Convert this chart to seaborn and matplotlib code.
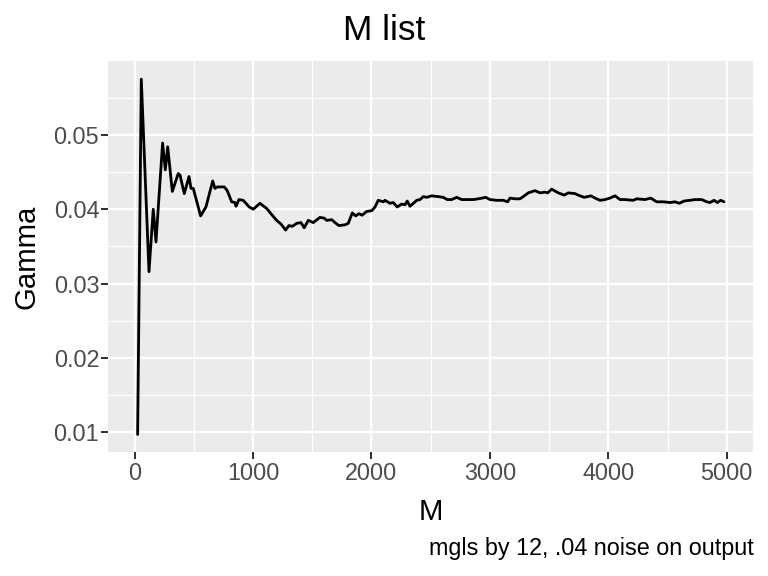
import matplotlib
matplotlib.use("Agg")
import matplotlib.pyplot as plt
from matplotlib.ticker import MultipleLocator, FixedLocator
import seaborn as sns
import pandas as pd

M = [25, 56, 121, 157, 180, 236, 259, 279, 318, 368, 383, 419, 459, 476, 495,
     557, 602, 659, 678, 698, 757, 782, 819, 847, 856, 881, 917, 968, 1002,
     1058, 1115, 1151, 1199, 1236, 1275, 1303, 1331, 1368, 1405, 1432, 1466,
     1508, 1565, 1601, 1622, 1664, 1692, 1725, 1776, 1804, 1838, 1867, 1894,
     1922, 1959, 2002, 2030, 2057, 2100, 2114, 2156, 2184, 2218, 2255, 2283,
     2302, 2325, 2382, 2410, 2438, 2466, 2508, 2564, 2606, 2640, 2677, 2720,
     2762, 2804, 2860, 2902, 2965, 3001, 3057, 3113, 3150, 3170, 3212, 3254,
     3282, 3324, 3381, 3423, 3465, 3488, 3522, 3578, 3628, 3662, 3719, 3761,
     3797, 3853, 3888, 3930, 3972, 4014, 4057, 4099, 4141, 4211, 4240, 4310,
     4358, 4409, 4465, 4521, 4563, 4600, 4639, 4690, 4732, 4789, 4831, 4859,
     4893, 4921, 4949, 4977]
Gamma = [0.0097, 0.0575, 0.0316, 0.0400, 0.0356, 0.0489, 0.0453, 0.0484, 0.0424,
         0.0448, 0.0446, 0.0421, 0.0444, 0.0428, 0.0428, 0.0391, 0.0403, 0.0438,
         0.0428, 0.0430, 0.0430, 0.0425, 0.0410, 0.0409, 0.0404, 0.0413, 0.0412,
         0.0403, 0.0400, 0.0408, 0.0401, 0.0394, 0.0385, 0.0380, 0.0372, 0.0378,
         0.0377, 0.0381, 0.0382, 0.0375, 0.0385, 0.0382, 0.0389, 0.0388, 0.0385,
         0.0386, 0.0382, 0.0378, 0.0379, 0.0381, 0.0395, 0.0391, 0.0394, 0.0392,
         0.0397, 0.0398, 0.0403, 0.0412, 0.0410, 0.0412, 0.0408, 0.0409, 0.0403,
         0.0407, 0.0406, 0.0411, 0.0404, 0.0412, 0.0413, 0.0417, 0.0416, 0.0418,
         0.0417, 0.0416, 0.0413, 0.0413, 0.0416, 0.0413, 0.0413, 0.0413, 0.0414,
         0.0416, 0.0413, 0.0412, 0.0412, 0.0410, 0.0415, 0.0414, 0.0414, 0.0417,
         0.0422, 0.0425, 0.0422, 0.0423, 0.0422, 0.0427, 0.0422, 0.0419, 0.0422,
         0.0421, 0.0418, 0.0416, 0.0418, 0.0415, 0.0412, 0.0413, 0.0415, 0.0418,
         0.0413, 0.0413, 0.0412, 0.0414, 0.0413, 0.0415, 0.0410, 0.0410, 0.0409,
         0.0410, 0.0408, 0.0411, 0.0412, 0.0413, 0.0413, 0.0410, 0.0409, 0.0412,
         0.0409, 0.0412, 0.0410]

x_ticks = [0, 1000, 2000, 3000, 4000, 5000]
y_ticks = [0.01, 0.02, 0.03, 0.04, 0.05]
x_tick_labels = ["0", "1000", "2000", "3000", "4000", "5000"]
y_tick_labels = ["0.01", "0.02", "0.03", "0.04", "0.05"]

df = pd.DataFrame({"M": M, "Gamma": Gamma})

sns.set_theme(style="darkgrid")
plt.rcParams["font.family"] = ["Liberation Sans", "DejaVu Sans"]

W, H = 768, 576
fig = plt.figure(figsize=(8, 6), dpi=96)
pl, pr, pt, pb = 108.3, 753.3, 61.4, 452.2
ax = fig.add_axes([pl / W, (H - pb) / H, (pr - pl) / W, (pb - pt) / H])
ax.set_facecolor("#EBEBEB")
for s in ax.spines.values():
    s.set_visible(False)

sns.lineplot(data=df, x="M", y="Gamma", ax=ax, color="black", linewidth=2.1,
             estimator=None, sort=False)
ax.margins(x=0.05, y=0.05)

ax.xaxis.set_major_locator(FixedLocator(x_ticks))
ax.yaxis.set_major_locator(FixedLocator(y_ticks))
ax.set_xticklabels(x_tick_labels)
ax.set_yticklabels(y_tick_labels)
ax.xaxis.set_minor_locator(MultipleLocator(500))
ax.yaxis.set_minor_locator(MultipleLocator(0.005))
ax.grid(which="major", color="white", linewidth=1.8)
ax.grid(which="minor", color="white", linewidth=0.9)
ax.set_axisbelow(True)
ax.tick_params(which="major", length=5.3, width=1.5, color="#333333",
               labelsize=17.5, labelcolor="#4D4D4D", bottom=True, left=True)
ax.tick_params(axis="y", pad=1.5)
ax.tick_params(axis="x", pad=2.0)
ax.tick_params(which="minor", length=0)

ax.set_xlabel("M", fontsize=22, color="black")
ax.set_ylabel("Gamma", fontsize=22, color="black")
ax.xaxis.label.set_verticalalignment("baseline")
ax.xaxis.set_label_coords(0.5, (pb - 520.5) / (pb - pt))
ax.yaxis.label.set_verticalalignment("center")
ax.yaxis.label.set_horizontalalignment("center")
ax.yaxis.set_label_coords((26 - pl) / (pr - pl), 0.5)

fig.text(0.5, 1 - 40 / H, "M list", ha="center", va="baseline",
         fontsize=26.4, color="black")
fig.text(pr / W, 1 - 555 / H, "mgls by 12, .04 noise on output",
         ha="right", va="baseline", fontsize=17.5, color="black")

fig.savefig("out.png", dpi=96, facecolor="white")
